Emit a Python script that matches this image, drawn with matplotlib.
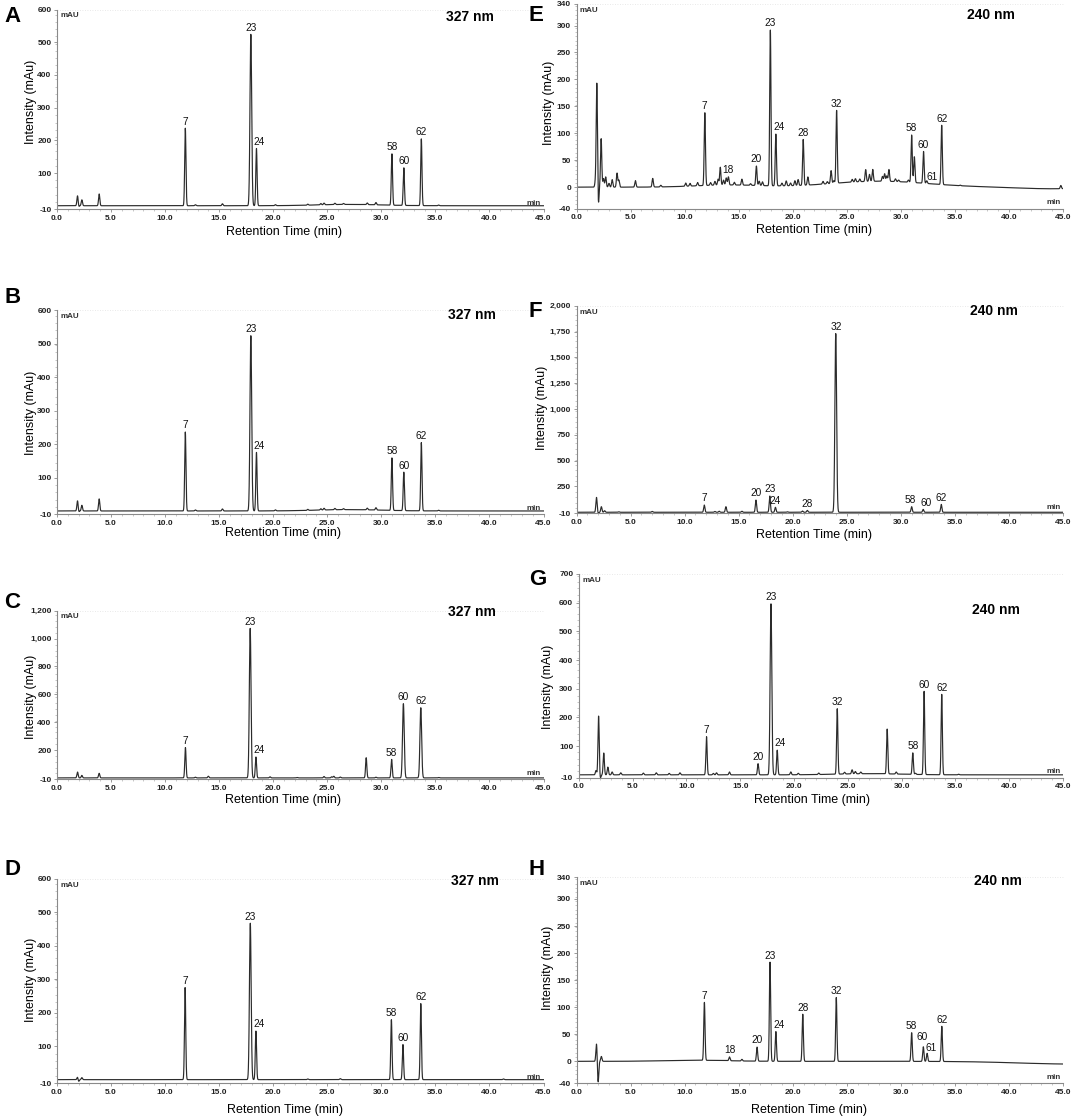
import numpy as np
import matplotlib
matplotlib.use("Agg")
import matplotlib.pyplot as plt
from matplotlib.ticker import MultipleLocator, AutoMinorLocator, FuncFormatter

plt.rcParams['font.family'] = ['Liberation Sans', 'DejaVu Sans']

# ---------------- data: peak retention times (min) and heights (mAU) ----------------
# Panel A (327 nm)
A_t = [1.9, 2.0, 2.3, 3.9, 11.87, 12.8, 15.3, 17.93, 18.45, 20.2, 23.2, 24.4, 24.7, 25.7,
       26.5, 28.7, 29.5, 30.98, 32.08, 33.7, 35.3]
A_h = [31, -4, 18, 36, 237, 3, 6, 524, 175, 3, 3, 4, 5, 4, 3, 5, 7, 157, 115, 204, 2]
A_hump_t, A_hump_h, A_hump_s = [27.0], [4.0], [3.0]
A_lab = ["7", "23", "24", "58", "60", "62"]
A_lab_t = [11.87, 17.93, 18.45, 30.98, 32.08, 33.7]

# Panel B (327 nm)
B_t = [1.9, 2.0, 2.3, 3.9, 11.87, 12.8, 15.3, 17.93, 18.45, 20.2, 23.2, 24.4, 24.7, 25.7,
       26.5, 28.7, 29.5, 30.98, 32.08, 33.7, 35.3]
B_h = [31, -4, 17, 36, 236, 3, 6, 524, 175, 3, 3, 4, 5, 4, 3, 5, 7, 157, 115, 204, 2]
B_hump_t, B_hump_h, B_hump_s = [27.0], [4.0], [3.0]
B_lab = ["7", "23", "24", "58", "60", "62"]
B_lab_t = [11.87, 17.93, 18.45, 30.98, 32.08, 33.7]

# Panel C (327 nm)
C_t = [1.9, 2.3, 3.9, 11.88, 12.8, 14.0, 17.87, 18.4, 19.7, 22.2, 24.7, 25.4, 25.6, 26.2,
       28.6, 29.5, 30.95, 32.04, 33.65, 35.3]
C_h = [42, 18, 33, 218, 5, 12, 1073, 150, 8, 3, 10, 8, 12, 6, 145, 5, 133, 533, 504, 3]
C_hump_t, C_hump_h, C_hump_s = [], [], []
C_lab = ["7", "23", "24", "58", "60", "62"]
C_lab_t = [11.88, 17.87, 18.4, 30.95, 32.04, 33.65]

# Panel D (327 nm)
D_t = [1.9, 2.0, 2.3, 11.85, 17.88, 18.4, 23.2, 26.2, 30.93, 32.0, 33.65, 41.3]
D_h = [8, -6, 6, 275, 467, 145, 2, 3, 179, 105, 227, 2]
D_hump_t, D_hump_h, D_hump_s = [], [], []
D_lab = ["7", "23", "24", "58", "60", "62"]
D_lab_t = [11.85, 17.88, 18.4, 30.93, 32.0, 33.65]

# Panel E (240 nm)
E_t = [1.75, 1.88, 2.02, 2.28, 2.5, 2.7, 3.0, 3.3, 3.75, 3.92, 5.45, 7.05, 7.8, 10.1, 10.5,
       11.2, 11.87, 12.4, 12.8, 13.1, 13.3, 13.6, 13.85, 14.05, 14.6, 15.3, 16.1, 16.64,
       16.9, 17.2, 17.93, 18.44, 19.0, 19.4, 19.8, 20.2, 20.5, 20.97, 21.4, 22.8, 23.2,
       23.55, 23.8, 24.06, 25.5, 25.8, 26.2, 26.75, 27.1, 27.4, 28.3, 28.5, 28.7, 28.9,
       29.5, 29.8, 30.7, 31.0, 31.25, 32.1, 32.4, 33.78, 35.5, 44.8]
E_h = [10, 194, -34, 90, 16, 19, 7, 14, 26, 13, 12, 16, 3, 6, 5, 6, 135, 5, 7, 11, 33, 9,
       13, 15, 5, 11, 3, 36, 8, 7, 289, 96, 5, 9, 5, 9, 11, 85, 15, 5, 4, 24, 5, 135, 5,
       6, 5, 22, 13, 22, 9, 14, 10, 22, 5, 3, 4, 88, 48, 59, 5, 110, 1, 6]
E_hump_t, E_hump_h, E_hump_s = [28.0, 14.0, 44.0], [11.0, 4.0, -3.0], [4.5, 3.0, 3.0]
E_lab = ["7", "18", "20", "23", "24", "28", "32", "58", "60", "61", "62"]
E_lab_t = [11.87, 14.05, 16.64, 17.93, 18.44, 20.97, 24.06, 31.0, 32.1, 32.4, 33.78]

# Panel F (240 nm)
F_t = [1.85, 2.02, 2.3, 2.6, 3.9, 7.0, 11.82, 12.8, 13.2, 13.82, 15.3, 16.6, 17.88, 18.4,
       19.5, 20.9, 21.35, 23.98, 31.0, 32.07, 33.74]
F_h = [144, -10, 54, 15, 5, 8, 70, 8, 10, 54, 10, 118, 157, 48, 5, 12, 18, 1730, 54, 28, 76]
F_hump_t, F_hump_h, F_hump_s = [], [], []
F_lab = ["7", "20", "23", "24", "28", "32", "58", "60", "62"]
F_lab_t = [11.82, 16.6, 17.88, 18.4, 21.35, 23.98, 31.0, 32.07, 33.74]

# Panel G (240 nm)
G_t = [1.6, 1.84, 2.0, 2.32, 2.7, 3.1, 3.9, 6.0, 7.2, 8.4, 9.4, 11.87, 12.5, 12.8, 14.0,
       16.66, 17.86, 18.44, 19.7, 20.4, 22.3, 24.02, 24.7, 25.4, 25.7, 26.2, 28.66, 29.5,
       31.04, 31.3, 32.09, 33.73, 35.3]
G_h = [15, 205, -12, 76, 27, 10, 7, 6, 7, 5, 7, 133, 5, 7, 10, 39, 596, 86, 10, 5, 5, 228,
       6, 14, 8, 6, 156, 7, 75, 4, 290, 280, 2]
G_hump_t, G_hump_h, G_hump_s = [27.0], [4.0], [3.0]
G_lab = ["7", "20", "23", "24", "32", "58", "60", "62"]
G_lab_t = [11.87, 16.66, 17.86, 18.44, 24.02, 31.04, 32.09, 33.73]

# Panel H (240 nm)
H_t = [1.85, 2.0, 2.3, 11.83, 14.15, 15.3, 16.7, 17.9, 18.44, 20.93, 24.03, 31.0, 32.08,
       32.43, 33.79]
H_h = [33, -39, 9, 107, 7, 3, 26, 183, 55, 87, 118, 53, 27, 15, 65]
H_hump_t, H_hump_h, H_hump_s = [11.0, 46.0], [2.0, -5.0], [3.0, 5.0]
H_lab = ["7", "18", "20", "23", "24", "28", "32", "58", "60", "61", "62"]
H_lab_t = [11.83, 14.15, 16.7, 17.9, 18.44, 20.93, 24.03, 31.0, 32.08, 32.43, 33.79]

# y-axis ticks per panel
A_yt = [-10, 100, 200, 300, 400, 500, 600]
C_yt = [-10, 200, 400, 600, 800, 1000, 1200]
E_yt = [-40, 0, 50, 100, 150, 200, 250, 300, 340]
F_yt = [-10, 250, 500, 750, 1000, 1250, 1500, 1750, 2000]
G_yt = [-10, 100, 200, 300, 400, 500, 600, 700]
x_ticks = [0, 5, 10, 15, 20, 25, 30, 35, 40, 45]

# ---------------- layout ----------------
W, H = 1072, 1118
fig = plt.figure(figsize=(W / 100, H / 100), dpi=100)


def box(l, t, r, b):
    return [l / W, 1 - b / H, (r - l) / W, (b - t) / H]


def fx(x):
    return x / W


def fy(y):
    return 1 - y / H


t = np.linspace(0, 45, 18001)
SIG = 0.058

panels = [
    dict(L="A", nm="327 nm", pt=A_t, ph=A_h, hu=(A_hump_t, A_hump_h, A_hump_s), lab=A_lab, labt=A_lab_t,
         yt=A_yt, box=(57, 9.5, 543.5, 209), Lp=(4, 22), nmp=(470, 17), xl=(284, 232), yl=(31, 102)),
    dict(L="B", nm="327 nm", pt=B_t, ph=B_h, hu=(B_hump_t, B_hump_h, B_hump_s), lab=B_lab, labt=B_lab_t,
         yt=A_yt, box=(57, 310.3, 543.5, 514.3), Lp=(4, 303), nmp=(472, 315), xl=(283, 533), yl=(31, 413)),
    dict(L="C", nm="327 nm", pt=C_t, ph=C_h, hu=(C_hump_t, C_hump_h, C_hump_s), lab=C_lab, labt=C_lab_t,
         yt=C_yt, box=(57, 610.7, 543.5, 779.3), Lp=(4, 608), nmp=(472, 612), xl=(283, 800), yl=(31, 697)),
    dict(L="D", nm="327 nm", pt=D_t, ph=D_h, hu=(D_hump_t, D_hump_h, D_hump_s), lab=D_lab, labt=D_lab_t,
         yt=A_yt, box=(57, 878.7, 543.5, 1083), Lp=(4, 875), nmp=(475, 881), xl=(285, 1110), yl=(31, 980)),
    dict(L="E", nm="240 nm", pt=E_t, ph=E_h, hu=(E_hump_t, E_hump_h, E_hump_s), lab=E_lab, labt=E_lab_t,
         yt=E_yt, box=(576.5, 4, 1063, 208.7), Lp=(528, 21), nmp=(991, 15), xl=(814, 230), yl=(549, 103)),
    dict(L="F", nm="240 nm", pt=F_t, ph=F_h, hu=(F_hump_t, F_hump_h, F_hump_s), lab=F_lab, labt=F_lab_t,
         yt=F_yt, box=(576.5, 305.7, 1063, 513.3), Lp=(529, 317), nmp=(994, 311), xl=(814, 535), yl=(542, 408)),
    dict(L="G", nm="240 nm", pt=G_t, ph=G_h, hu=(G_hump_t, G_hump_h, G_hump_s), lab=G_lab, labt=G_lab_t,
         yt=G_yt, box=(578.8, 574, 1063, 777.7), Lp=(529, 585), nmp=(996, 610), xl=(812, 800), yl=(548.5, 687)),
    dict(L="H", nm="240 nm", pt=H_t, ph=H_h, hu=(H_hump_t, H_hump_h, H_hump_s), lab=H_lab, labt=H_lab_t,
         yt=E_yt, box=(576.5, 877.3, 1063, 1083), Lp=(529, 875), nmp=(998, 881), xl=(809, 1110), yl=(548, 968)),
]

# label nudges (points) for crowded labels
nudge = {("E", "61"): (4, -2), ("H", "60"): (-1, 2), ("H", "61"): (3, -1), ("F", "58"): (-1, 0),
         ("F", "60"): (2, 0), ("E", "24"): (2, 0), ("H", "24"): (2, 0), ("A", "24"): (2, 0),
         ("B", "24"): (2, 0), ("C", "24"): (2, 0), ("D", "24"): (2, 0), ("G", "24"): (2, 0)}

axis_col = "#8a8a8a"
trace_col = "#2b2b2b"

for p in panels:
    ax = fig.add_axes(box(*p["box"]))
    y = np.zeros_like(t)
    for tc, hh in zip(p["pt"], p["ph"]):
        s = SIG * (1.35 if hh > 300 else 1.0)
        y += hh * np.exp(-0.5 * ((t - tc) / s) ** 2)
    for tc, hh, s in zip(*p["hu"]):
        y += hh * np.exp(-0.5 * ((t - tc) / s) ** 2)
    ax.plot(t, y, color=trace_col, lw=0.85, solid_joinstyle='round')

    yt = p["yt"]
    ax.set_xlim(0, 45)
    ax.set_ylim(yt[0], yt[-1])
    ax.set_xticks(x_ticks)
    ax.set_xticklabels([f"{v:.1f}" for v in x_ticks])
    ax.set_yticks(yt)
    ax.yaxis.set_major_formatter(FuncFormatter(lambda v, pos: f"{int(round(v)):,}"))
    ax.xaxis.set_minor_locator(MultipleLocator(1))
    ax.yaxis.set_minor_locator(AutoMinorLocator(5))
    for sp in ["top", "right"]:
        ax.spines[sp].set_visible(False)
    for sp in ["left", "bottom"]:
        ax.spines[sp].set_color(axis_col)
        ax.spines[sp].set_linewidth(0.8)
    ax.plot([0, 45], [yt[-1], yt[-1]], color="#e2e2e2", lw=0.6, ls=(0, (1, 2)), clip_on=False)
    ax.tick_params(which="major", length=2.5, width=0.6, color=axis_col, pad=1.5,
                   labelsize=6)
    ax.tick_params(which="minor", length=1.3, width=0.5, color="#b0b0b0")
    for lb in ax.get_xticklabels() + ax.get_yticklabels():
        lb.set_fontweight("bold")
        lb.set_color("#222222")
    ax.set_facecolor("none")

    ax.text(0.007, 0.985, "mAU", transform=ax.transAxes, ha="left", va="top", fontsize=5.8,
            fontweight="bold", color="#333333")
    ax.text(0.995, 0.012, "min", transform=ax.transAxes, ha="right", va="bottom", fontsize=5.8,
            fontweight="bold", color="#333333")

    for lab, lt in zip(p["lab"], p["labt"]):
        m = (t > lt - 0.08) & (t < lt + 0.08)
        ypk = y[m].max()
        dx, dy = nudge.get((p["L"], lab), (0, 0))
        ax.annotate(lab, (lt, ypk), xytext=(dx, 1.2 + dy), textcoords="offset points",
                    ha="center", va="bottom", fontsize=7.3, color="#111111")

    fig.text(fx(p["Lp"][0]), fy(p["Lp"][1]), p["L"], ha="left", va="baseline",
             fontsize=16, fontweight="bold")
    fig.text(fx(p["nmp"][0]), fy(p["nmp"][1]), p["nm"], ha="center", va="center",
             fontsize=10, fontweight="bold")
    fig.text(fx(p["xl"][0]), fy(p["xl"][1]), "Retention Time (min)", ha="center", va="center",
             fontsize=9)
    fig.text(fx(p["yl"][0]), fy(p["yl"][1]), "Intensity (mAu)", ha="center", va="center",
             fontsize=9, rotation=90)

fig.savefig("out.png", dpi=100)
